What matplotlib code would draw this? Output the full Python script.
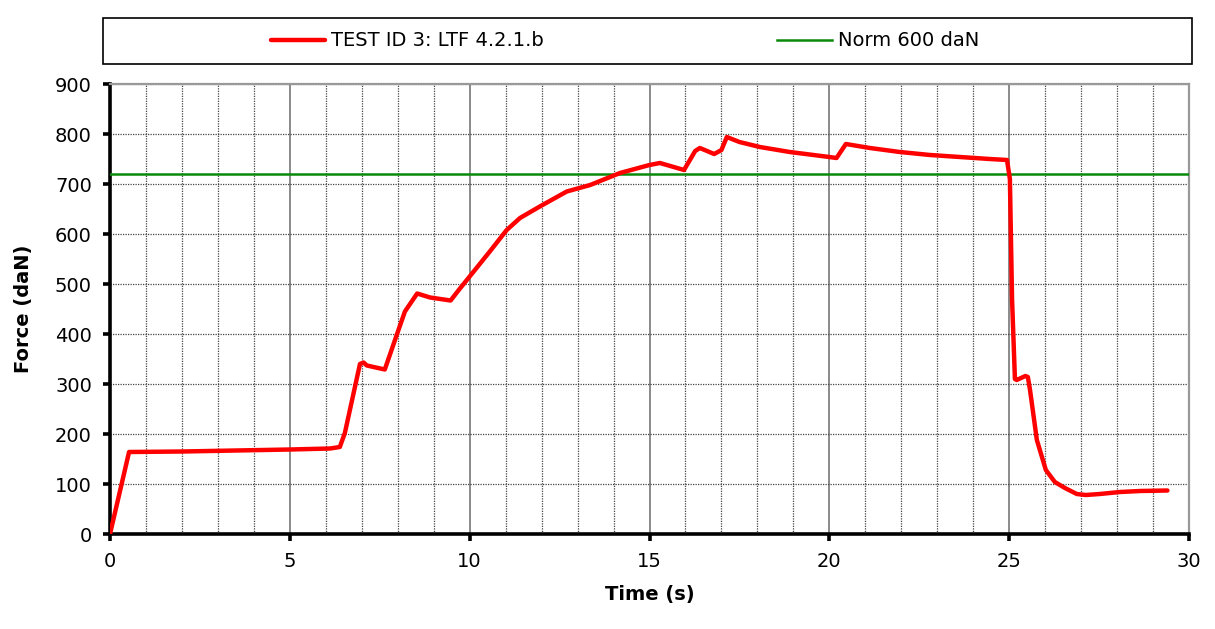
import matplotlib.pyplot as plt
from matplotlib.patches import Rectangle
from matplotlib.ticker import MultipleLocator

# force curve
time_s = [0.0, 0.53, 2.0, 3.5, 5.0, 6.12, 6.39, 6.53, 6.95, 7.05, 7.14,
          7.64, 8.02, 8.2, 8.54, 8.9, 9.47, 9.73, 10.0, 10.56, 11.03,
          11.4, 11.95, 12.7, 13.35, 14.18, 15.0, 15.29, 15.96, 16.27,
          16.4, 16.8, 17.0, 17.15, 17.5, 18.07, 18.9, 20.0, 20.2, 20.46,
          21.13, 21.96, 22.8, 23.63, 24.46, 24.94, 25.02, 25.08, 25.16,
          25.21, 25.45, 25.52, 25.58, 25.77, 26.02, 26.27, 26.55, 26.88,
          27.13, 27.52, 28.08, 28.64, 29.4]
force_dan = [0, 164, 165, 167, 169, 171, 174, 202, 340, 343, 337,
             329, 408, 445, 481, 473, 467, 491, 515, 565, 608,
             632, 655, 685, 698, 722, 738, 742, 728, 766,
             772, 760, 768, 794, 784, 774, 764, 754, 752, 780,
             772, 764, 758, 754, 750, 748, 710, 470, 310,
             308, 316, 314, 288, 188, 128, 104, 92, 80,
             78, 80, 84, 86, 87]
norm_level = 720

series_label = "TEST ID 3: LTF 4.2.1.b"
norm_label = "Norm 600 daN"

fig = plt.figure(figsize=(12.15, 6.29), dpi=100)
ax = fig.add_axes([110 / 1215, 1 - 534 / 629, 1079 / 1215, 450 / 629])

line_red, = ax.plot(time_s, force_dan, color="#ff0000", lw=3.2,
                    solid_joinstyle="round", solid_capstyle="round", zorder=4)
line_green = ax.axhline(norm_level, color="#0a8a0a", lw=1.8, zorder=3)

ax.set_xlim(0, 30)
ax.set_ylim(0, 900)
ax.xaxis.set_major_locator(MultipleLocator(5))
ax.xaxis.set_minor_locator(MultipleLocator(1))
ax.yaxis.set_major_locator(MultipleLocator(100))

ax.grid(which="minor", axis="x", color="#444444", ls=(0, (1, 1)), lw=0.9)
ax.grid(which="major", axis="x", color="#777777", ls="-", lw=1.2)
ax.grid(which="major", axis="y", color="#444444", ls=(0, (1, 1)), lw=0.9)
ax.set_axisbelow(True)

for side in ("left", "bottom"):
    ax.spines[side].set_linewidth(2.6)
    ax.spines[side].set_color("black")
for side in ("top", "right"):
    ax.spines[side].set_linewidth(1.6)
    ax.spines[side].set_color("#999999")

ax.tick_params(which="major", direction="out", length=5, width=2.6,
               labelsize=14, pad=8)
ax.tick_params(which="minor", length=0)

ax.set_xlabel("Time (s)", fontsize=14, fontweight="bold", labelpad=10)
ax.set_ylabel("Force (daN)", fontsize=14, fontweight="bold", labelpad=16)

# legend box across the top
fig.patches.append(Rectangle((103 / 1215, 1 - 64 / 629), 1089 / 1215, 46 / 629,
                             transform=fig.transFigure, fill=False,
                             edgecolor="black", lw=1.2))
fig.legend([line_red, line_green], [series_label, norm_label],
           loc="center left", bbox_to_anchor=(271 / 1215, 1 - 41 / 629),
           ncol=2, frameon=False, fontsize=14, borderpad=0, borderaxespad=0,
           handlelength=2.8, handletextpad=0.3, columnspacing=12.0)

fig.savefig("out.png", dpi=100)
plt.close(fig)
